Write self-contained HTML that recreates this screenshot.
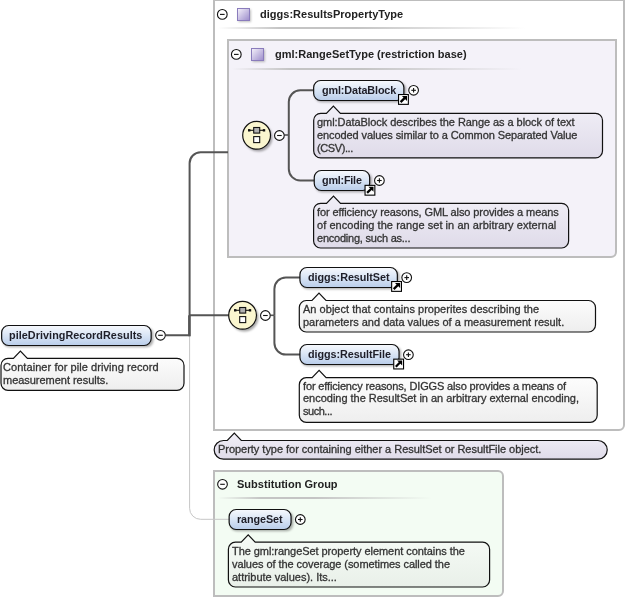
<!DOCTYPE html>
<html><head><meta charset="utf-8"><style>
html,body{margin:0;padding:0;}
body{width:626px;height:598px;position:relative;overflow:hidden;background:#fff;font-family:"Liberation Sans",sans-serif;}
.box{position:absolute;box-sizing:border-box;}
.t{position:absolute;white-space:pre;will-change:transform;}
.pill{position:absolute;box-sizing:border-box;border:1.5px solid #151515;border-radius:8px;background:linear-gradient(to bottom,#f7f9fd 0%,#dce7f6 45%,#b9cdea 100%);box-shadow:1px 2px 2px rgba(0,0,0,0.35);}
svg{position:absolute;left:0;top:0;}
</style></head><body>
<div class="box" style="left:213px;top:-1px;width:412px;height:432px;background:#ffffff;border:2px solid #bdbdbd;border-radius:0 0 6px 0"></div><div class="box" style="left:227px;top:39px;width:390px;height:218.5px;background:#f4f2f9;border:2px solid #bdbdbd;border-radius:0 0 6px 0"></div><div class="box" style="left:213px;top:470px;width:291px;height:127px;background:#f3fcf3;border:2px solid #bdbdbd;border-radius:0 6px 6px 0"></div>
<div style="position:absolute;left:218px;top:27px;width:307px;height:2px;background:linear-gradient(to right, rgba(190,190,190,0), #c4c4c4 20%, #c4c4c4 45%, rgba(210,210,210,0))"></div><div style="position:absolute;left:232px;top:68px;width:290px;height:2px;background:linear-gradient(to right, rgba(190,190,190,0), #c4c4c4 20%, #c4c4c4 45%, rgba(210,210,210,0))"></div><div style="position:absolute;left:218px;top:497px;width:214px;height:2px;background:linear-gradient(to right, rgba(190,190,190,0), #c4c4c4 20%, #c4c4c4 45%, rgba(210,210,210,0))"></div>
<svg width="626" height="598" viewBox="0 0 626 598">
<defs>
<linearGradient id="pg" x1="0" y1="0" x2="0" y2="1"><stop offset="0" stop-color="#f7f9fd"/><stop offset="0.45" stop-color="#dce7f6"/><stop offset="1" stop-color="#b9cdea"/></linearGradient>
<linearGradient id="sq" x1="0" y1="0" x2="1" y2="1"><stop offset="0" stop-color="#f6f3fb"/><stop offset="1" stop-color="#9b8bcb"/></linearGradient>
<linearGradient id="gw" x1="0" y1="0" x2="0" y2="1"><stop offset="0" stop-color="#ffffff"/><stop offset="1" stop-color="#eeeeee"/></linearGradient>
<linearGradient id="gp" x1="0" y1="0" x2="0" y2="1"><stop offset="0" stop-color="#f1eff7"/><stop offset="1" stop-color="#dfdbe9"/></linearGradient>
<linearGradient id="gg" x1="0" y1="0" x2="0" y2="1"><stop offset="0" stop-color="#f6fbf6"/><stop offset="1" stop-color="#e9f0e9"/></linearGradient>
<filter id="blur" x="-50%" y="-50%" width="200%" height="200%"><feGaussianBlur stdDeviation="1.2"/></filter>
</defs>
<path d="M189.6 335 L189.6 508.29999999999995 A11 11 0 0 0 200.6 519.3 L229 519.3" fill="none" stroke="#c6c6c6" stroke-width="1"/><path d="M166 335.2 L189.6 335.2 L189.6 163.2 A11 11 0 0 1 200.6 152.2 L228 152.2" fill="none" stroke="#555555" stroke-width="2"/><path d="M189.6 315.3 L229 315.3" fill="none" stroke="#555555" stroke-width="2"/><path d="M189.3 315.3 L189.3 336.2" fill="none" stroke="#555555" stroke-width="2.4"/><path d="M284.3 135 L288.8 135" fill="none" stroke="#555555" stroke-width="1.6"/><path d="M288.8 135 L288.8 101.8 A11.5 11.5 0 0 1 300.3 90.3 L313.5 90.3" fill="none" stroke="#555555" stroke-width="2"/><path d="M288.8 135 L288.8 169.0 A11.5 11.5 0 0 0 300.3 180.5 L314 180.5" fill="none" stroke="#555555" stroke-width="2"/><path d="M270.3 315.3 L274.4 315.3" fill="none" stroke="#555555" stroke-width="1.6"/><path d="M274.4 315.3 L274.4 288.9 A11.5 11.5 0 0 1 285.9 277.4 L300 277.4" fill="none" stroke="#555555" stroke-width="2"/><path d="M274.4 315.3 L274.4 343.1 A11.5 11.5 0 0 0 285.9 354.6 L300 354.6" fill="none" stroke="#555555" stroke-width="2"/><rect x="2.6" y="327.3" width="150.8" height="20" rx="7" fill="rgba(0,0,0,0.32)" filter="url(#blur)"/><rect x="1.65" y="325.5" width="149.5" height="20" rx="7" fill="url(#pg)" stroke="#111" stroke-width="1.2"/><rect x="314.6" y="82.3" width="91.5" height="20" rx="7" fill="rgba(0,0,0,0.32)" filter="url(#blur)"/><rect x="313.65" y="80.5" width="90.2" height="20" rx="7" fill="url(#pg)" stroke="#111" stroke-width="1.2"/><rect x="315.20000000000005" y="172.3" width="56.69999999999999" height="20" rx="7" fill="rgba(0,0,0,0.32)" filter="url(#blur)"/><rect x="314.25" y="170.5" width="55.39999999999999" height="20" rx="7" fill="url(#pg)" stroke="#111" stroke-width="1.2"/><rect x="300.90000000000003" y="269.3" width="98.69999999999999" height="20" rx="7" fill="rgba(0,0,0,0.32)" filter="url(#blur)"/><rect x="299.95" y="267.5" width="97.39999999999999" height="20" rx="7" fill="url(#pg)" stroke="#111" stroke-width="1.2"/><rect x="300.90000000000003" y="346.3" width="100.39999999999998" height="20" rx="7" fill="rgba(0,0,0,0.32)" filter="url(#blur)"/><rect x="299.95" y="344.5" width="99.09999999999998" height="20" rx="7" fill="url(#pg)" stroke="#111" stroke-width="1.2"/><rect x="230.1" y="511.3" width="63.19999999999999" height="20" rx="7" fill="rgba(0,0,0,0.32)" filter="url(#blur)"/><rect x="229.15" y="509.5" width="61.89999999999999" height="20" rx="7" fill="url(#pg)" stroke="#111" stroke-width="1.2"/><circle cx="222.3" cy="14.4" r="4.8500000000000005" fill="#fff" stroke="#111" stroke-width="1.1"/><line x1="220.0" y1="14.4" x2="224.60000000000002" y2="14.4" stroke="#111" stroke-width="1.1"/><rect x="238.5" y="9.5" width="12.5" height="12.5" fill="rgba(0,0,0,0.25)" filter="url(#blur)"/><rect x="237.5" y="8.5" width="12" height="12" fill="url(#sq)" stroke="#8a7cbc" stroke-width="1"/><circle cx="236.3" cy="54.4" r="4.8500000000000005" fill="#fff" stroke="#111" stroke-width="1.1"/><line x1="234.0" y1="54.4" x2="238.60000000000002" y2="54.4" stroke="#111" stroke-width="1.1"/><rect x="252.5" y="49.5" width="12.5" height="12.5" fill="rgba(0,0,0,0.25)" filter="url(#blur)"/><rect x="251.5" y="48.5" width="12" height="12" fill="url(#sq)" stroke="#8a7cbc" stroke-width="1"/><circle cx="222.5" cy="484.3" r="4.8500000000000005" fill="#fff" stroke="#111" stroke-width="1.1"/><line x1="220.2" y1="484.3" x2="224.8" y2="484.3" stroke="#111" stroke-width="1.1"/><circle cx="160.5" cy="335.3" r="4.8500000000000005" fill="#fff" stroke="#111" stroke-width="1.1"/><line x1="158.2" y1="335.3" x2="162.8" y2="335.3" stroke="#111" stroke-width="1.1"/><path d="M8 358.4 L13.399999999999999 358.4 L20.4 351.09999999999997 L27.4 358.4 L177 358.4 A7 7 0 0 1 184 365.4 L184 383.3 A7 7 0 0 1 177 390.3 L8 390.3 A7 7 0 0 1 1 383.3 L1 365.4 A7 7 0 0 1 8 358.4 Z" fill="url(#gw)" stroke="#111" stroke-width="1.2"/><circle cx="258.40000000000003" cy="137.5" r="14" fill="rgba(0,0,0,0.35)" filter="url(#blur)"/><circle cx="256.6" cy="135.3" r="13.9" fill="#faf6cf" stroke="#111" stroke-width="1.2"/><line x1="249.20000000000002" y1="130.3" x2="264.0" y2="130.3" stroke="#111" stroke-width="1.1"/><rect x="248.00000000000003" y="129.10000000000002" width="2.4" height="2.4" fill="#111"/><rect x="262.8" y="129.10000000000002" width="2.4" height="2.4" fill="#111"/><rect x="253.70000000000002" y="127.50000000000001" width="6" height="5.6" fill="#b0b0b0" stroke="#111" stroke-width="1.1"/><rect x="253.70000000000002" y="136.60000000000002" width="6" height="6" fill="#fff" stroke="#111" stroke-width="1.1"/><circle cx="279.4" cy="135.5" r="4.8500000000000005" fill="#fff" stroke="#111" stroke-width="1.1"/><line x1="277.09999999999997" y1="135.5" x2="281.7" y2="135.5" stroke="#111" stroke-width="1.1"/><circle cx="244.4" cy="317.5" r="14" fill="rgba(0,0,0,0.35)" filter="url(#blur)"/><circle cx="242.6" cy="315.3" r="13.9" fill="#faf6cf" stroke="#111" stroke-width="1.2"/><line x1="235.2" y1="310.3" x2="250.0" y2="310.3" stroke="#111" stroke-width="1.1"/><rect x="234.0" y="309.1" width="2.4" height="2.4" fill="#111"/><rect x="248.79999999999998" y="309.1" width="2.4" height="2.4" fill="#111"/><rect x="239.7" y="307.5" width="6" height="5.6" fill="#b0b0b0" stroke="#111" stroke-width="1.1"/><rect x="239.7" y="316.6" width="6" height="6" fill="#fff" stroke="#111" stroke-width="1.1"/><circle cx="265.4" cy="315.5" r="4.8500000000000005" fill="#fff" stroke="#111" stroke-width="1.1"/><line x1="263.09999999999997" y1="315.5" x2="267.7" y2="315.5" stroke="#111" stroke-width="1.1"/><rect x="398.55" y="94.55" width="9.8" height="9.8" fill="#fff" stroke="#000" stroke-width="1.1"/><path d="M400.6 102.1 L404.8 97.9" stroke="#000" stroke-width="2.3"/><path d="M401.9 95.9 L407.0 95.9 L407.0 101.0 Z" fill="#000"/><circle cx="413.6" cy="90.3" r="4.8500000000000005" fill="#fff" stroke="#111" stroke-width="1.1"/><line x1="411.3" y1="90.3" x2="415.90000000000003" y2="90.3" stroke="#111" stroke-width="1.1"/><line x1="413.6" y1="88.0" x2="413.6" y2="92.6" stroke="#111" stroke-width="1.1"/><path d="M320.7 113.3 L326.4 113.3 L333.4 106.0 L340.4 113.3 L595.5 113.3 A7 7 0 0 1 602.5 120.3 L602.5 150.9 A7 7 0 0 1 595.5 157.9 L320.7 157.9 A7 7 0 0 1 313.7 150.9 L313.7 120.3 A7 7 0 0 1 320.7 113.3 Z" fill="url(#gp)" stroke="#111" stroke-width="1.2"/><rect x="365.05" y="185.35000000000002" width="9.8" height="9.8" fill="#fff" stroke="#000" stroke-width="1.1"/><path d="M367.1 192.9 L371.3 188.70000000000002" stroke="#000" stroke-width="2.3"/><path d="M368.4 186.70000000000002 L373.5 186.70000000000002 L373.5 191.8 Z" fill="#000"/><circle cx="379.4" cy="180.5" r="4.8500000000000005" fill="#fff" stroke="#111" stroke-width="1.1"/><line x1="377.09999999999997" y1="180.5" x2="381.7" y2="180.5" stroke="#111" stroke-width="1.1"/><line x1="379.4" y1="178.2" x2="379.4" y2="182.8" stroke="#111" stroke-width="1.1"/><path d="M320.6 203.3 L326.5 203.3 L333.5 196.0 L340.5 203.3 L561.6 203.3 A7 7 0 0 1 568.6 210.3 L568.6 241 A7 7 0 0 1 561.6 248 L320.6 248 A7 7 0 0 1 313.6 241 L313.6 210.3 A7 7 0 0 1 320.6 203.3 Z" fill="url(#gp)" stroke="#111" stroke-width="1.2"/><rect x="391.65000000000003" y="281.55" width="9.8" height="9.8" fill="#fff" stroke="#000" stroke-width="1.1"/><path d="M393.70000000000005 289.1 L397.90000000000003 284.9" stroke="#000" stroke-width="2.3"/><path d="M395.0 282.9 L400.1 282.9 L400.1 288.0 Z" fill="#000"/><circle cx="406.7" cy="277.6" r="4.8500000000000005" fill="#fff" stroke="#111" stroke-width="1.1"/><line x1="404.4" y1="277.6" x2="409.0" y2="277.6" stroke="#111" stroke-width="1.1"/><line x1="406.7" y1="275.3" x2="406.7" y2="279.90000000000003" stroke="#111" stroke-width="1.1"/><path d="M306.3 300.5 L312 300.5 L319 293.2 L326 300.5 L588.5 300.5 A7 7 0 0 1 595.5 307.5 L595.5 325 A7 7 0 0 1 588.5 332 L306.3 332 A7 7 0 0 1 299.3 325 L299.3 307.5 A7 7 0 0 1 306.3 300.5 Z" fill="url(#gw)" stroke="#111" stroke-width="1.2"/><rect x="393.75" y="359.15000000000003" width="9.8" height="9.8" fill="#fff" stroke="#000" stroke-width="1.1"/><path d="M395.8 366.70000000000005 L400.0 362.5" stroke="#000" stroke-width="2.3"/><path d="M397.09999999999997 360.5 L402.2 360.5 L402.2 365.6 Z" fill="#000"/><circle cx="408.4" cy="354.7" r="4.8500000000000005" fill="#fff" stroke="#111" stroke-width="1.1"/><line x1="406.09999999999997" y1="354.7" x2="410.7" y2="354.7" stroke="#111" stroke-width="1.1"/><line x1="408.4" y1="352.4" x2="408.4" y2="357.0" stroke="#111" stroke-width="1.1"/><path d="M306.3 377.7 L312.1 377.7 L319.1 370.4 L326.1 377.7 L590.2 377.7 A7 7 0 0 1 597.2 384.7 L597.2 415.3 A7 7 0 0 1 590.2 422.3 L306.3 422.3 A7 7 0 0 1 299.3 415.3 L299.3 384.7 A7 7 0 0 1 306.3 377.7 Z" fill="url(#gw)" stroke="#111" stroke-width="1.2"/><path d="M223.5 440.5 L227.3 440.5 L234.3 433.2 L241.3 440.5 L597.9000000000001 440.5 A9.3 9.3 0 0 1 607.2 449.8 L607.2 449.9 A9.3 9.3 0 0 1 597.9000000000001 459.2 L223.5 459.2 A9.3 9.3 0 0 1 214.2 449.9 L214.2 449.8 A9.3 9.3 0 0 1 223.5 440.5 Z" fill="url(#gp)" stroke="#111" stroke-width="1.2"/><circle cx="300.3" cy="519.5" r="4.8500000000000005" fill="#fff" stroke="#111" stroke-width="1.1"/><line x1="298.0" y1="519.5" x2="302.6" y2="519.5" stroke="#111" stroke-width="1.1"/><line x1="300.3" y1="517.2" x2="300.3" y2="521.8" stroke="#111" stroke-width="1.1"/><path d="M235.4 542.2 L241.2 542.2 L248.2 534.9000000000001 L255.2 542.2 L482.6 542.2 A7 7 0 0 1 489.6 549.2 L489.6 580 A7 7 0 0 1 482.6 587 L235.4 587 A7 7 0 0 1 228.4 580 L228.4 549.2 A7 7 0 0 1 235.4 542.2 Z" fill="url(#gg)" stroke="#111" stroke-width="1.2"/>
</svg>
<div class="t" style="left:260.4px;top:6.89px;font-size:11px;line-height:14px;font-weight:bold;color:#222;letter-spacing:0.016px;">diggs:ResultsPropertyType</div><div class="t" style="left:274.6px;top:47.09px;font-size:11px;line-height:14px;font-weight:bold;color:#222;letter-spacing:0.014px;">gml:RangeSetType (restriction base)</div><div class="t" style="left:236.5px;top:476.79px;font-size:11px;line-height:14px;font-weight:bold;color:#222;letter-spacing:0.023px;">Substitution Group</div><div class="t" style="left:8.8px;top:328.46px;font-size:10.8px;line-height:14px;font-weight:bold;color:#1e1e28;letter-spacing:0.059px;">pileDrivingRecordResults</div><div class="t" style="left:3.4px;top:359.99px;font-size:11px;line-height:14px;font-weight:normal;color:#333333;-webkit-text-stroke:0.3px #333333;letter-spacing:0.064px;">Container for pile driving record</div><div class="t" style="left:3.4px;top:372.79px;font-size:11px;line-height:14px;font-weight:normal;color:#333333;-webkit-text-stroke:0.3px #333333;letter-spacing:-0.030px;">measurement results.</div><div class="t" style="left:321.6px;top:82.96px;font-size:10.8px;line-height:14px;font-weight:bold;color:#1e1e28;letter-spacing:-0.110px;">gml:DataBlock</div><div class="t" style="left:316.7px;top:115.49px;font-size:11px;line-height:14px;font-weight:normal;color:#333333;-webkit-text-stroke:0.3px #333333;letter-spacing:-0.056px;">gml:DataBlock describes the Range as a block of text</div><div class="t" style="left:316.7px;top:128.29px;font-size:11px;line-height:14px;font-weight:normal;color:#333333;-webkit-text-stroke:0.3px #333333;letter-spacing:-0.097px;">encoded values similar to a Common Separated Value</div><div class="t" style="left:316.7px;top:141.09px;font-size:11px;line-height:14px;font-weight:normal;color:#333333;-webkit-text-stroke:0.3px #333333;letter-spacing:-0.402px;">(CSV)...</div><div class="t" style="left:321.6px;top:173.46px;font-size:10.8px;line-height:14px;font-weight:bold;color:#1e1e28;letter-spacing:-0.215px;">gml:File</div><div class="t" style="left:316.5px;top:204.99px;font-size:11px;line-height:14px;font-weight:normal;color:#333333;-webkit-text-stroke:0.3px #333333;letter-spacing:-0.098px;">for efficiency reasons, GML also provides a means</div><div class="t" style="left:316.5px;top:217.79px;font-size:11px;line-height:14px;font-weight:normal;color:#333333;-webkit-text-stroke:0.3px #333333;letter-spacing:0.054px;">of encoding the range set in an arbitrary external</div><div class="t" style="left:316.5px;top:230.59px;font-size:11px;line-height:14px;font-weight:normal;color:#333333;-webkit-text-stroke:0.3px #333333;letter-spacing:-0.228px;">encoding, such as...</div><div class="t" style="left:307.7px;top:270.26px;font-size:10.8px;line-height:14px;font-weight:bold;color:#1e1e28;letter-spacing:-0.043px;">diggs:ResultSet</div><div class="t" style="left:302.5px;top:302.09px;font-size:11px;line-height:14px;font-weight:normal;color:#333333;-webkit-text-stroke:0.3px #333333;letter-spacing:0.027px;">An object that contains properites describing the</div><div class="t" style="left:302.5px;top:314.89px;font-size:11px;line-height:14px;font-weight:normal;color:#333333;-webkit-text-stroke:0.3px #333333;letter-spacing:0.002px;">parameters and data values of a measurement result.</div><div class="t" style="left:307.7px;top:347.46px;font-size:10.8px;line-height:14px;font-weight:bold;color:#1e1e28;letter-spacing:-0.067px;">diggs:ResultFile</div><div class="t" style="left:302.5px;top:378.59px;font-size:11px;line-height:14px;font-weight:normal;color:#333333;-webkit-text-stroke:0.3px #333333;letter-spacing:-0.142px;">for efficiency reasons, DIGGS also provides a means of</div><div class="t" style="left:302.5px;top:391.39px;font-size:11px;line-height:14px;font-weight:normal;color:#333333;-webkit-text-stroke:0.3px #333333;letter-spacing:-0.018px;">encoding the ResultSet in an arbitrary external encoding,</div><div class="t" style="left:302.5px;top:404.19px;font-size:11px;line-height:14px;font-weight:normal;color:#333333;-webkit-text-stroke:0.3px #333333;letter-spacing:-0.467px;">such...</div><div class="t" style="left:217.7px;top:442.19px;font-size:11px;line-height:14px;font-weight:normal;color:#333333;-webkit-text-stroke:0.3px #333333;letter-spacing:-0.029px;">Property type for containing either a ResultSet or ResultFile object.</div><div class="t" style="left:236.9px;top:512.26px;font-size:10.8px;line-height:14px;font-weight:bold;color:#1e1e28;letter-spacing:-0.088px;">rangeSet</div><div class="t" style="left:232px;top:543.99px;font-size:11px;line-height:14px;font-weight:normal;color:#333333;-webkit-text-stroke:0.3px #333333;letter-spacing:-0.056px;">The gml:rangeSet property element contains the</div><div class="t" style="left:232px;top:556.79px;font-size:11px;line-height:14px;font-weight:normal;color:#333333;-webkit-text-stroke:0.3px #333333;letter-spacing:-0.063px;">values of the coverage (sometimes called the</div><div class="t" style="left:232px;top:569.59px;font-size:11px;line-height:14px;font-weight:normal;color:#333333;-webkit-text-stroke:0.3px #333333;letter-spacing:-0.011px;">attribute values). Its...</div>
</body></html>
